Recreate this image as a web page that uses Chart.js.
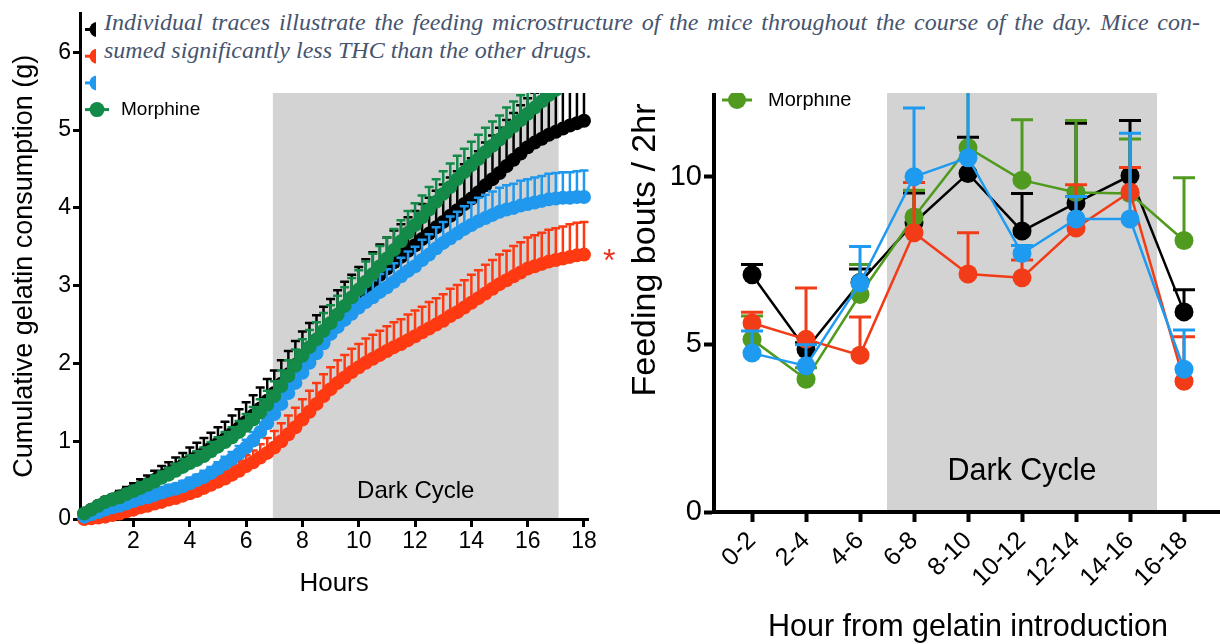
<!DOCTYPE html>
<html>
<head>
<meta charset="utf-8">
<script src="https://cdn.jsdelivr.net/npm/chart.js@4.4.1/dist/chart.umd.min.js"></script>
<style>
  html, body { margin: 0; padding: 0; background: #fff; width: 1220px; height: 644px; overflow: hidden; }
  #intake { position: absolute; left: 0; top: 0; }
  #bouts { position: absolute; left: 600px; top: 0; }
  #caption {
    position: absolute; left: 96px; top: 0; width: 1124px; height: 93px;
    background: #fff; z-index: 5; box-sizing: border-box; padding: 8px 0 0 8px;
    font-family: 'Liberation Serif', 'DejaVu Serif', serif; font-style: italic;
    font-size: 24px; line-height: 28px; color: #46546e;
  }
  #caption .line { width: 1096px; white-space: nowrap; }
  #caption .just { text-align: justify; text-align-last: justify; }
</style>
</head>
<body>
<canvas id="intake" width="640" height="644"></canvas>
<canvas id="bouts" width="660" height="644"></canvas>
<div id="caption">
  <div class="line just">Individual traces illustrate the feeding microstructure of the mice throughout the course of the day. Mice con-</div>
  <div class="line">sumed significantly less THC than the other drugs.</div>
</div>
<script>
const FONT = "'Liberation Sans', Arial, Helvetica, sans-serif";

const groupNames = ['Vehicle', 'THC', 'Nicotine', 'Morphine'];

// ---------- Cumulative intake, sampled every 15 min ----------
const sampleHours = [0.25,0.5,0.75,1,1.25,1.5,1.75,2,2.25,2.5,2.75,3,3.25,3.5,3.75,4,4.25,4.5,4.75,5,5.25,5.5,5.75,6,
  6.25,6.5,6.75,7,7.25,7.5,7.75,8,8.25,8.5,8.75,9,9.25,9.5,9.75,10,10.25,10.5,10.75,11,11.25,11.5,11.75,12,
  12.25,12.5,12.75,13,13.25,13.5,13.75,14,14.25,14.5,14.75,15,15.25,15.5,15.75,16,16.25,16.5,16.75,17,17.25,17.5,17.75,18];
const hourTicks = [2, 4, 6, 8, 10, 12, 14, 16, 18];
const intakeTicks = [0, 1, 2, 3, 4, 5, 6];
const intakeDark = [6.95, 17.1];

const intakeVehicle = [0.07,0.12,0.17,0.22,0.25,0.29,0.33,0.37,0.41,0.45,0.50,0.55,0.59,0.64,0.69,0.75,0.80,0.85,0.91,0.97,1.03,1.10,1.17,1.25,
  1.33,1.42,1.52,1.62,1.74,1.86,1.98,2.10,2.20,2.30,2.40,2.50,2.60,2.70,2.79,2.88,2.97,3.05,3.14,3.22,3.30,3.37,3.45,3.52,
  3.60,3.67,3.75,3.82,3.90,3.97,4.05,4.12,4.20,4.29,4.37,4.45,4.54,4.62,4.70,4.78,4.84,4.89,4.94,4.98,5.02,5.06,5.09,5.12];
const intakeVehicleSem = [0.03,0.04,0.05,0.06,0.06,0.07,0.08,0.09,0.10,0.11,0.12,0.13,0.14,0.15,0.16,0.17,0.18,0.19,0.20,0.21,0.22,0.23,0.24,0.25,
  0.26,0.27,0.28,0.29,0.30,0.30,0.31,0.31,0.32,0.32,0.33,0.33,0.34,0.35,0.35,0.36,0.37,0.38,0.39,0.40,0.41,0.42,0.43,0.44,
  0.45,0.46,0.47,0.48,0.49,0.50,0.51,0.52,0.53,0.55,0.56,0.58,0.59,0.60,0.62,0.63,0.64,0.65,0.66,0.67,0.68,0.69,0.70,0.70];

const intakeTHC = [0.00,0.01,0.02,0.03,0.05,0.07,0.10,0.12,0.15,0.17,0.20,0.22,0.25,0.27,0.30,0.33,0.36,0.40,0.44,0.48,0.52,0.57,0.62,0.68,
  0.73,0.79,0.85,0.92,1.00,1.09,1.18,1.28,1.38,1.48,1.58,1.67,1.75,1.82,1.89,1.95,2.01,2.06,2.11,2.16,2.21,2.25,2.30,2.35,
  2.40,2.45,2.50,2.55,2.61,2.66,2.72,2.78,2.84,2.90,2.96,3.02,3.07,3.12,3.17,3.22,3.25,3.28,3.31,3.33,3.35,3.37,3.39,3.40];
const intakeTHCSem = [0.01,0.01,0.02,0.02,0.03,0.03,0.04,0.04,0.05,0.05,0.06,0.06,0.07,0.07,0.08,0.08,0.09,0.09,0.10,0.10,0.11,0.12,0.13,0.14,
  0.15,0.17,0.19,0.21,0.23,0.24,0.25,0.26,0.27,0.27,0.28,0.28,0.29,0.29,0.30,0.30,0.31,0.31,0.31,0.32,0.32,0.32,0.33,0.33,
  0.33,0.34,0.34,0.34,0.35,0.35,0.35,0.36,0.36,0.37,0.37,0.38,0.38,0.39,0.39,0.40,0.40,0.40,0.41,0.41,0.41,0.42,0.42,0.42];

const intakeNicotine = [0.03,0.06,0.09,0.12,0.15,0.17,0.20,0.23,0.26,0.28,0.31,0.34,0.37,0.39,0.42,0.46,0.50,0.54,0.59,0.65,0.71,0.77,0.84,0.92,
  1.01,1.12,1.23,1.35,1.48,1.62,1.75,1.88,2.01,2.13,2.26,2.38,2.47,2.56,2.64,2.72,2.79,2.85,2.92,2.98,3.05,3.12,3.19,3.25,
  3.33,3.40,3.48,3.55,3.61,3.67,3.73,3.78,3.83,3.87,3.91,3.95,3.98,4.00,4.03,4.05,4.07,4.09,4.11,4.12,4.13,4.13,4.14,4.14];
const intakeNicotineSem = [0.02,0.02,0.03,0.03,0.03,0.04,0.04,0.04,0.05,0.05,0.05,0.06,0.06,0.06,0.07,0.07,0.07,0.08,0.08,0.08,0.09,0.09,0.10,0.10,
  0.11,0.12,0.13,0.13,0.14,0.15,0.15,0.16,0.17,0.17,0.18,0.19,0.19,0.20,0.21,0.21,0.22,0.22,0.23,0.23,0.24,0.24,0.25,0.25,
  0.26,0.26,0.27,0.27,0.28,0.28,0.29,0.29,0.30,0.30,0.30,0.31,0.31,0.31,0.32,0.32,0.32,0.32,0.33,0.33,0.33,0.33,0.33,0.34];

const intakeMorphine = [0.07,0.12,0.17,0.22,0.25,0.28,0.32,0.36,0.40,0.44,0.48,0.53,0.57,0.62,0.67,0.72,0.76,0.81,0.87,0.93,0.99,1.05,1.12,1.20,
  1.28,1.37,1.47,1.58,1.71,1.84,1.97,2.10,2.21,2.31,2.42,2.52,2.63,2.74,2.85,2.95,3.05,3.15,3.25,3.35,3.46,3.57,3.68,3.78,
  3.88,3.98,4.08,4.18,4.27,4.37,4.46,4.55,4.63,4.72,4.80,4.88,4.97,5.05,5.13,5.21,5.29,5.37,5.45,5.52,5.59,5.66,5.72,5.78];
const intakeMorphineSem = [0.03,0.03,0.04,0.04,0.05,0.05,0.06,0.06,0.07,0.07,0.08,0.08,0.09,0.09,0.10,0.10,0.11,0.11,0.12,0.12,0.13,0.13,0.14,0.15,
  0.16,0.17,0.18,0.19,0.20,0.20,0.21,0.21,0.22,0.22,0.23,0.23,0.24,0.24,0.25,0.25,0.26,0.26,0.26,0.27,0.27,0.27,0.28,0.28,
  0.28,0.29,0.29,0.29,0.30,0.30,0.30,0.30,0.31,0.31,0.31,0.31,0.32,0.32,0.32,0.32,0.33,0.33,0.33,0.33,0.34,0.34,0.34,0.34];

// ---------- Feeding bouts per 2-h bin ----------
const binLabels = ['0-2', '2-4', '4-6', '6-8', '8-10', '10-12', '12-14', '14-16', '16-18'];
const boutTicks = [0, 5, 10];
const boutDark = [2.5, 7.5];

const boutsVehicle     = [7.08, 4.85, 6.85, 8.63, 10.10, 8.38, 9.22, 10.03, 5.97];
const boutsVehicleSem  = [0.30, 0.20, 0.40, 0.89, 1.08, 1.12, 2.38, 1.65, 0.66];
const boutsTHC         = [5.64, 5.15, 4.68, 8.33, 7.10, 6.99, 8.47, 9.55, 3.90];
const boutsTHCSem      = [0.32, 1.53, 1.14, 1.50, 1.23, 0.53, 1.29, 0.73, 1.33];
const boutsNicotine    = [4.74, 4.36, 6.83, 10.00, 10.57, 7.71, 8.74, 8.74, 4.26];
const boutsNicotineSem = [0.66, 0.63, 1.09, 2.05, 2.13, 0.24, 0.67, 2.56, 1.17];
const boutsMorphine    = [5.15, 3.96, 6.49, 8.80, 10.87, 9.90, 9.53, 9.50, 8.10];
const boutsMorphineSem = [0.70, 0.34, 0.89, 0.80, 1.73, 1.80, 2.15, 1.63, 1.87];

// ---------- helpers ----------
function drawText(ctx, text, x, y, size, o = {}) {
  ctx.save();
  ctx.translate(x, y);
  if (o.rotate) ctx.rotate(o.rotate);
  ctx.font = `${o.weight || 'normal'} ${size}px ${FONT}`;
  ctx.fillStyle = o.color || '#000';
  ctx.textAlign = o.align || 'center';
  ctx.textBaseline = o.baseline || 'middle';
  ctx.fillText(text, 0, 0);
  ctx.restore();
}

// upward SEM whiskers, drawn just under each series' own markers
const semWhiskers = {
  id: 'semWhiskers',
  beforeDatasetDraw(chart, args) {
    const ds = chart.data.datasets[args.index];
    if (!ds.sem) return;
    const ys = chart.scales.y, ctx = chart.ctx;
    ctx.save();
    ctx.strokeStyle = ds.borderColor;
    ctx.lineWidth = ds.whiskerWidth;
    ctx.lineCap = 'butt';
    args.meta.data.forEach((pt, i) => {
      const top = ys.getPixelForValue(ds.data[i].y + ds.sem[i]);
      ctx.beginPath();
      ctx.moveTo(pt.x, pt.y);
      ctx.lineTo(pt.x, top);
      ctx.moveTo(pt.x - ds.capWidth / 2, top);
      ctx.lineTo(pt.x + ds.capWidth / 2, top);
      ctx.stroke();
    });
    ctx.restore();
  }
};

// grey band marking the dark phase, plus its caption
const darkPhase = {
  id: 'darkPhase',
  beforeDraw(chart, args, o) {
    const { ctx, chartArea: ca, scales: { x } } = chart;
    const x0 = x.getPixelForValue(o.range[0]), x1 = x.getPixelForValue(o.range[1]);
    ctx.save();
    ctx.fillStyle = '#d3d3d3';
    ctx.fillRect(x0, ca.top, x1 - x0, ca.bottom - ca.top);
    ctx.restore();
    drawText(ctx, 'Dark Cycle', (x0 + x1) / 2, ca.bottom - o.textLift, o.size);
  }
};

// legend: a short line with a filled circle, then the group name
const lineLegend = {
  id: 'lineLegend',
  afterDatasetsDraw(chart, args, o) {
    const ctx = chart.ctx, ca = chart.chartArea;
    chart.data.datasets.forEach((ds, i) => {
      const cy = ca.top + o.firstRow + i * o.rowGap;
      const cx = ca.left + o.dx;
      ctx.save();
      ctx.strokeStyle = ds.borderColor;
      ctx.fillStyle = ds.borderColor;
      ctx.lineWidth = o.lineWidth;
      ctx.beginPath();
      ctx.moveTo(cx - o.half, cy);
      ctx.lineTo(cx + o.half, cy);
      ctx.stroke();
      ctx.beginPath();
      ctx.arc(cx, cy, o.radius, 0, Math.PI * 2);
      ctx.fill();
      ctx.restore();
      drawText(ctx, ds.label, cx + o.textGap, cy, o.size, { align: 'left' });
    });
  }
};

const axisTitles = {
  id: 'axisTitles',
  afterDraw(chart, args, o) {
    const ctx = chart.ctx;
    (o.items || []).forEach(t => {
      const pos = t.at(chart);
      drawText(ctx, t.text, pos[0], pos[1], t.size, { rotate: t.rotate, color: t.color });
    });
  }
};

const tickFont = size => ({ family: FONT, size, lineHeight: 1 });
const axisBase = (tickLen, width, fontSize, pad) => ({
  border: { display: true, color: '#000', width },
  grid: { display: true, drawOnChartArea: false, drawTicks: true, tickLength: tickLen, tickWidth: width, tickColor: '#000' },
  ticks: { color: '#000', font: tickFont(fontSize), padding: pad, autoSkip: false }
});

// ---------- left panel: cumulative intake ----------
const intakeColors = ['#000000', '#ff3a12', '#1f98ee', '#138a48'];
const intakeMeans = [intakeVehicle, intakeTHC, intakeNicotine, intakeMorphine];
const intakeSems = [intakeVehicleSem, intakeTHCSem, intakeNicotineSem, intakeMorphineSem];
const intakeOrder = [3, 2, 1, 0];

new Chart(document.getElementById('intake'), {
  type: 'line',
  data: {
    datasets: groupNames.map((name, g) => ({
      label: name,
      data: sampleHours.map((h, i) => ({ x: h, y: intakeMeans[g][i] })),
      sem: intakeSems[g],
      borderColor: intakeColors[g],
      backgroundColor: intakeColors[g],
      pointBackgroundColor: intakeColors[g],
      pointBorderWidth: 0,
      pointRadius: 7,
      borderWidth: 2,
      whiskerWidth: 2.5,
      capWidth: 9,
      tension: 0,
      clip: false,
      order: intakeOrder[g]
    }))
  },
  options: {
    responsive: false, animation: false, devicePixelRatio: 1,
    events: [],
    layout: { padding: { left: 0, top: 12, right: 51.8, bottom: 0 } },
    plugins: {
      legend: { display: false }, tooltip: { enabled: false },
      darkPhase: { range: intakeDark, textLift: 28, size: 24 },
      lineLegend: { dx: 17, firstRow: 16, rowGap: 26.7, half: 12, radius: 7.5, lineWidth: 3, textGap: 24, size: 19 },
      axisTitles: {
        items: [
          { text: 'Hours', size: 26, at: c => [(c.chartArea.left + c.chartArea.right) / 2, 584] },
          { text: 'Cumulative gelatin consumption (g)', size: 27, rotate: -Math.PI / 2,
            at: c => [25, (c.chartArea.top + c.chartArea.bottom) / 2] },
          { text: '*', size: 32, color: '#e8321e',
            at: c => [c.chartArea.right + 21, c.scales.y.getPixelForValue(intakeTHC[intakeTHC.length - 1]) + 8] }
        ]
      }
    },
    scales: {
      x: Object.assign(axisBase(8, 3, 23, 3), {
        type: 'linear', min: 0.1, max: 18.15,
        afterFit: s => { s.height = 125; },
        afterBuildTicks: s => { s.ticks = hourTicks.map(v => ({ value: v })); }
      }),
      y: Object.assign(axisBase(7, 3, 23, 2), {
        type: 'linear', min: 0, max: 6.5,
        afterFit: s => { s.width = 80; },
        afterBuildTicks: s => { s.ticks = intakeTicks.map(v => ({ value: v })); }
      })
    }
  },
  plugins: [darkPhase, semWhiskers, lineLegend, axisTitles]
});

// ---------- right panel: feeding bouts ----------
const boutColors = ['#000000', '#f23c17', '#1e9bf0', '#4f9a1f'];
const boutMeans = [boutsVehicle, boutsTHC, boutsNicotine, boutsMorphine];
const boutSems = [boutsVehicleSem, boutsTHCSem, boutsNicotineSem, boutsMorphineSem];
const boutOrder = [3, 1, 0, 2];

new Chart(document.getElementById('bouts'), {
  type: 'line',
  data: {
    datasets: groupNames.map((name, g) => ({
      label: name,
      data: binLabels.map((b, i) => ({ x: i, y: boutMeans[g][i] })),
      sem: boutSems[g],
      borderColor: boutColors[g],
      backgroundColor: boutColors[g],
      pointBackgroundColor: boutColors[g],
      pointBorderWidth: 0,
      pointRadius: 9.5,
      borderWidth: 2.5,
      whiskerWidth: 3,
      capWidth: 22,
      tension: 0,
      clip: false,
      order: boutOrder[g]
    }))
  },
  options: {
    responsive: false, animation: false, devicePixelRatio: 1,
    events: [],
    layout: { padding: { left: 0, top: 93, right: 20, bottom: 0 } },
    plugins: {
      legend: { display: false }, tooltip: { enabled: false },
      darkPhase: { range: boutDark, textLift: 40, size: 30.5 },
      lineLegend: { dx: 23, firstRow: 7 - 3 * 26, rowGap: 26, half: 15, radius: 9, lineWidth: 3, textGap: 31, size: 20 },
      axisTitles: {
        items: [
          { text: 'Hour from gelatin introduction', size: 30.5, at: c => [368, 628] },
          { text: 'Feeding bouts / 2hr', size: 34, rotate: -Math.PI / 2, at: c => [46, 250] }
        ]
      }
    },
    scales: {
      x: Object.assign(axisBase(10, 4, 25, 6), {
        type: 'linear', min: -0.704, max: 9.037,
        ticks: { color: '#000', font: tickFont(25), padding: 6, autoSkip: false, minRotation: 45, maxRotation: 45,
                 callback: v => binLabels[v] },
        afterFit: s => { s.height = 132; },
        afterBuildTicks: s => { s.ticks = binLabels.map((b, i) => ({ value: i })); }
      }),
      y: Object.assign(axisBase(10, 4, 29, 2), {
        type: 'linear', min: 0, max: 12.5,
        afterFit: s => { s.width = 114; },
        afterBuildTicks: s => { s.ticks = boutTicks.map(v => ({ value: v })); }
      })
    }
  },
  plugins: [darkPhase, semWhiskers, lineLegend, axisTitles]
});
</script>
</body>
</html>
